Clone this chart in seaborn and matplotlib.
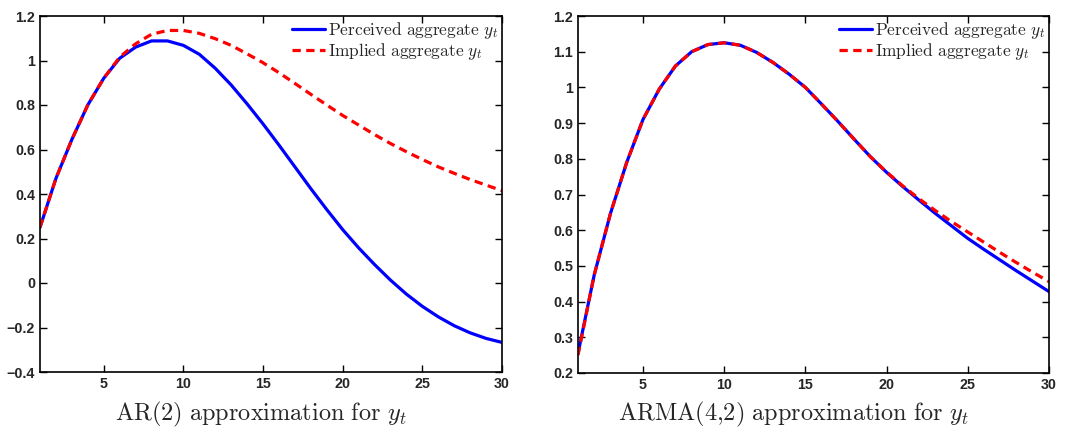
import numpy as np
import pandas as pd
import matplotlib
matplotlib.use("Agg")
import matplotlib.pyplot as plt
from matplotlib.ticker import FuncFormatter, FixedLocator
import seaborn as sns

t = list(range(1, 31))

ar2_perceived = [0.25, 0.47, 0.645, 0.80, 0.92, 1.01, 1.06, 1.088, 1.088, 1.068,
                 1.028, 0.965, 0.89, 0.805, 0.715, 0.62, 0.522, 0.424, 0.33, 0.24,
                 0.158, 0.083, 0.013, -0.05, -0.105, -0.152, -0.192, -0.224, -0.249, -0.267]
ar2_implied = [0.25, 0.47, 0.645, 0.80, 0.92, 1.015, 1.075, 1.118, 1.135, 1.135,
               1.122, 1.098, 1.068, 1.03, 0.99, 0.945, 0.897, 0.848, 0.80, 0.753,
               0.71, 0.667, 0.627, 0.59, 0.555, 0.522, 0.493, 0.465, 0.44, 0.415]

arma_perceived = [0.255, 0.475, 0.647, 0.79, 0.91, 0.995, 1.06, 1.10, 1.12, 1.125,
                  1.118, 1.098, 1.07, 1.037, 1.0, 0.953, 0.905, 0.855, 0.806, 0.762,
                  0.722, 0.684, 0.647, 0.612, 0.577, 0.546, 0.516, 0.486, 0.457, 0.428]
arma_implied = [0.25, 0.475, 0.647, 0.79, 0.91, 0.995, 1.06, 1.10, 1.12, 1.125,
                1.118, 1.098, 1.07, 1.037, 1.0, 0.953, 0.905, 0.855, 0.806, 0.763,
                0.724, 0.688, 0.655, 0.624, 0.595, 0.566, 0.537, 0.509, 0.482, 0.456]

titles = [r"$\mathrm{AR(2)\ approximation\ for}\ y_t$",
          r"$\mathrm{ARMA(4{,}2)\ approximation\ for}\ y_t$"]
legend_labels = [r"$\mathrm{Perceived\ aggregate}\ y_t$",
                 r"$\mathrm{Implied\ aggregate}\ y_t$"]
xticks = [5, 10, 15, 20, 25, 30]
yticks_left = [-0.4, -0.2, 0, 0.2, 0.4, 0.6, 0.8, 1.0, 1.2]
yticks_right = [0.2, 0.3, 0.4, 0.5, 0.6, 0.7, 0.8, 0.9, 1.0, 1.1, 1.2]

sns.set_style("ticks")
plt.rcParams["font.family"] = ["Liberation Sans", "DejaVu Sans"]
plt.rcParams["mathtext.fontset"] = "cm"
plt.rcParams["axes.unicode_minus"] = True

fig = plt.figure(figsize=(10.74, 4.33), dpi=100)
ax1 = fig.add_axes([40 / 1074, 61 / 433, 462 / 1074, 356 / 433])
ax2 = fig.add_axes([578 / 1074, 60 / 433, 471 / 1074, 357 / 433])


def fmt(v, pos):
    s = f"{v:.1f}".rstrip("0").rstrip(".")
    if s in ("-0", ""):
        s = "0"
    return s.replace("-", "\u2212")


panels = [(ax1, ar2_perceived, ar2_implied, yticks_left, (-0.4, 1.2), 261),
          (ax2, arma_perceived, arma_implied, yticks_right, (0.2, 1.2), 793)]

for i, (ax, perc, impl, yt, ylim, cx) in enumerate(panels):
    df = pd.DataFrame({"t": t, "perceived": perc, "implied": impl})
    sns.lineplot(data=df, x="t", y="perceived", color=(0, 0, 1), lw=2.3,
                 label=legend_labels[0], ax=ax)
    sns.lineplot(data=df, x="t", y="implied", color=(1, 0, 0), lw=2.3,
                 linestyle=(0, (2.6, 1.7)), label=legend_labels[1], ax=ax)
    ax.set_xlim(1, 30)
    ax.set_ylim(*ylim)
    ax.xaxis.set_major_locator(FixedLocator(xticks))
    ax.yaxis.set_major_locator(FixedLocator(yt))
    ax.yaxis.set_major_formatter(FuncFormatter(fmt))
    ax.set_xlabel("")
    ax.set_ylabel("")
    ax.tick_params(direction="in", length=5, width=1, top=True, right=True,
                   labelsize=10.3, pad=3.5, color="black")
    for lab in ax.get_xticklabels() + ax.get_yticklabels():
        lab.set_fontweight("bold")
    for sp in ax.spines.values():
        sp.set_visible(True)
        sp.set_linewidth(1.2)
        sp.set_color("black")
    leg = ax.legend(loc="upper right", frameon=False, fontsize=12.5,
                    handlelength=1.9, handletextpad=0.15, labelspacing=0.0,
                    borderaxespad=0.15, borderpad=0.1)
    fig.text(cx / 1074, 1 - 414 / 433, titles[i], ha="center", va="center",
             fontsize=17.5)

fig.savefig("out.png", dpi=100)
